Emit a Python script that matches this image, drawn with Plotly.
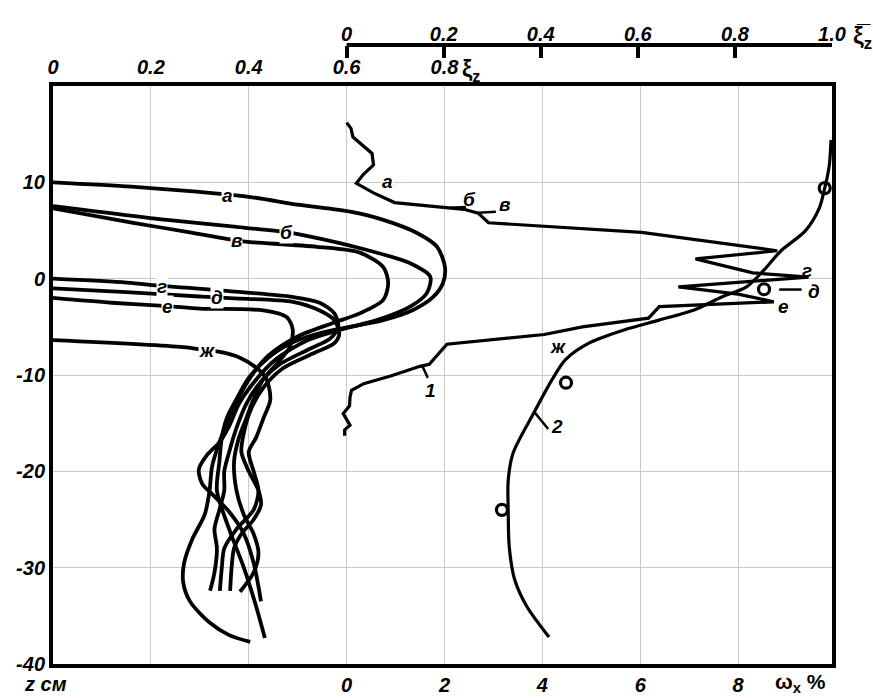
import plotly.graph_objects as go

# ---------------- data ----------------
# Left family of profiles xi_z(z) (curves а..ж), z in cm
xi_a = [0.0, 0.16, 0.30, 0.40, 0.505, 0.607, 0.675, 0.744, 0.785, 0.801, 0.797, 0.777, 0.736, 0.675, 0.607, 0.55,
        0.49, 0.44, 0.40, 0.375, 0.355, 0.345, 0.34, 0.335, 0.36, 0.39, 0.415, 0.433]
z_a = [10.0, 9.55, 9.0, 8.5, 7.65, 6.95, 6.1, 4.74, 3.3, 1.2, -0.45, -1.9, -3.25, -4.3, -5.0, -5.6,
       -6.6, -8.2, -10.3, -12.5, -14.5, -16.5, -19.0, -22.0, -26.0, -30.0, -34.0, -37.3]

xi_b = [0.0, 0.233, 0.36, 0.48, 0.511, 0.642, 0.73, 0.771, 0.764, 0.73, 0.662, 0.587, 0.52, 0.455, 0.41, 0.38,
        0.36, 0.34, 0.315, 0.298, 0.305, 0.33, 0.36, 0.39, 0.41, 0.42, 0.425]
z_b = [7.54, 6.1, 5.45, 4.8, 4.53, 2.98, 1.6, 0.2, -1.5, -2.9, -4.3, -5.3, -6.4, -8.4, -10.8, -13.0,
       -15.3, -17.0, -18.3, -19.8, -21.3, -22.6, -24.2, -26.5, -29.5, -32.0, -33.5]

xi_v = [0.0, 0.164, 0.28, 0.376, 0.403, 0.54, 0.627, 0.675, 0.685, 0.675, 0.627, 0.572, 0.50, 0.44, 0.40, 0.375,
        0.355, 0.34, 0.325, 0.32, 0.31, 0.285, 0.268, 0.266, 0.28, 0.32, 0.36, 0.403]
z_v = [7.3, 5.8, 4.8, 3.95, 3.8, 3.3, 2.7, 1.2, -0.45, -2.2, -3.6, -4.6, -6.0, -8.0, -10.5, -12.8,
       -15.0, -17.0, -19.5, -22.0, -24.5, -27.0, -29.5, -31.5, -33.5, -35.7, -37.0, -37.7]

xi_g = [0.0, 0.15, 0.222, 0.29, 0.36, 0.49, 0.545, 0.575, 0.583, 0.567, 0.52, 0.46, 0.42, 0.395, 0.375, 0.36,
        0.35, 0.35, 0.34, 0.33, 0.335, 0.33, 0.321]
z_g = [0.0, -0.4, -0.75, -1.0, -1.3, -1.9, -2.5, -3.6, -5.0, -6.2, -7.4, -9.0, -11.0, -13.0, -15.5, -18.0,
       -20.0, -22.0, -24.0, -26.0, -28.0, -30.5, -32.4]

xi_d = [0.0, 0.15, 0.30, 0.335, 0.37, 0.49, 0.545, 0.575, 0.585, 0.575, 0.53, 0.47, 0.43, 0.405, 0.39, 0.385,
        0.40, 0.42, 0.425, 0.41, 0.385, 0.37, 0.365, 0.362]
z_d = [-1.0, -1.4, -1.85, -1.95, -2.05, -2.4, -3.3, -4.3, -5.7, -6.7, -7.8, -9.3, -11.3, -13.5, -16.0, -18.0,
       -20.0, -22.0, -23.5, -25.0, -26.5, -28.0, -30.0, -32.4]

xi_e = [0.0, 0.12, 0.235, 0.30, 0.43, 0.478, 0.49, 0.484, 0.458, 0.429, 0.41, 0.395, 0.38, 0.37, 0.375, 0.39,
        0.41, 0.42, 0.41, 0.39, 0.382]
z_e = [-2.0, -2.5, -2.85, -3.1, -3.3, -4.0, -5.3, -7.1, -8.8, -10.5, -12.5, -14.5, -16.5, -19.0, -22.0, -24.5,
       -26.5, -28.5, -30.5, -32.0, -32.5]

xi_zh = [0.0, 0.266, 0.315, 0.341, 0.382, 0.417, 0.437, 0.444, 0.43, 0.415, 0.40, 0.41, 0.42, 0.41, 0.375, 0.35,
         0.345, 0.341]
z_zh = [-6.37, -7.1, -7.45, -7.6, -8.2, -9.3, -10.5, -12.6, -14.5, -16.5, -18.0, -20.0, -22.0, -24.0, -26.0, -28.0,
        -30.0, -32.4]

left_names = ["а", "б", "в", "г", "д", "е", "ж"]
left_label_xi = [0.356, 0.478, 0.376, 0.222, 0.335, 0.235, 0.315]
left_label_z = [8.6, 4.75, 3.95, -0.8, -2.0, -2.9, -7.5]

# Curve 1: omega_x, %
omega_1 = [0.0, 0.09, 0.13, 0.34, 0.52, 0.55, 0.34, 0.2, 0.55, 0.98, 1.9, 2.4, 2.69, 2.9, 6.03, 8.8, 7.13,
           8.3, 9.44, 6.78, 8.0, 8.73, 6.39, 6.17, 4.82, 4.04, 2.05, 1.69, 1.5, 0.9, 0.35, 0.1, 0.07, 0.06,
           -0.07, 0.02, 0.07, -0.04, -0.04]
z_1 = [16.2, 15.6, 14.7, 13.8, 13.0, 11.8, 10.8, 9.9, 8.9, 7.9, 7.4, 7.2, 6.8, 5.8, 4.8, 2.9, 2.05,
       0.6, 0.17, -0.85, -1.6, -2.4, -2.9, -4.1, -5.0, -5.8, -6.8, -8.9, -9.1, -10.1, -10.9, -11.6, -12.3, -13.2,
       -14.0, -14.7, -15.2, -15.7, -16.3]

# Curve 2: mean xi (xi-bar)
xibar_2 = [0.998, 0.995, 0.99, 0.985, 0.974, 0.945, 0.895, 0.859, 0.824, 0.773, 0.716, 0.644, 0.573, 0.5,
           0.451, 0.423, 0.385, 0.343, 0.333, 0.333, 0.335, 0.346, 0.371, 0.417]
z_2 = [14.4, 12.0, 10.5, 9.4, 7.35, 4.96, 2.9, 0.85, -0.85, -1.9, -3.25, -4.3, -5.3, -6.67,
       -8.4, -10.5, -14.0, -18.1, -20.9, -24.3, -27.8, -31.2, -34.0, -37.2]

xibar_pts = [0.985, 0.86, 0.452, 0.32]
z_pts = [9.4, -1.1, -10.8, -24.0]

# labels attached to curve 1 / curve 2 (in omega units)
right_names = ["а", "б", "в", "г", "д", "е", "ж", "1", "2"]
right_label_w = [0.84, 2.51, 3.22, 9.41, 9.56, 8.92, 4.32, 1.72, 4.3]
right_label_z = [10.1, 8.2, 7.7, 0.85, -1.37, -2.84, -7.0, -11.6, -15.3]

leader_w0 = [2.12, 2.69, 8.84, 1.55, 3.83]
leader_z0 = [7.35, 6.85, -1.13, -9.1, -13.8]
leader_w1 = [2.44, 3.05, 9.3, 1.66, 4.12]
leader_z1 = [7.45, 6.95, -1.13, -10.3, -15.6]

omega_grid = [-4, -2, 0, 2, 4, 6, 8]
xi_ticks = [0, 0.2, 0.4, 0.6, 0.8]
xibar_ticks = [0, 0.2, 0.4, 0.6, 0.8, 1.0]
z_ticks = [-40, -30, -20, -10, 0, 10]

# ---------------- figure ----------------
W_MIN, W_MAX = -6.0, 9.92
XI_MAX = (W_MAX - W_MIN) / 10.0
TICKFONT = dict(family="Liberation Sans Narrow, Liberation Sans, Arial", size=20, color="black",
                weight="bold", style="italic")
LBLFONT = dict(family="Liberation Sans, Arial", size=19, color="black", weight="bold", style="italic")

fig = go.Figure()

left_curves = [(xi_a, z_a), (xi_b, z_b), (xi_v, z_v), (xi_g, z_g), (xi_d, z_d), (xi_e, z_e), (xi_zh, z_zh)]
for name, (xs, zs) in zip(left_names, left_curves):
    fig.add_trace(go.Scatter(x=xs, y=zs, xaxis="x2", yaxis="y", mode="lines", name=name,
                             line=dict(color="black", width=3.8, shape="spline", smoothing=0.8),
                             showlegend=False, hoverinfo="skip"))

fig.add_trace(go.Scatter(x=omega_1, y=z_1, xaxis="x", yaxis="y", mode="lines",
                         line=dict(color="black", width=3.2), showlegend=False, hoverinfo="skip"))

fig.add_trace(go.Scatter(x=xibar_2, y=z_2, xaxis="x3", yaxis="y", mode="lines",
                         line=dict(color="black", width=3.2, shape="spline", smoothing=0.8),
                         showlegend=False, hoverinfo="skip"))
fig.add_trace(go.Scatter(x=xibar_pts, y=z_pts, xaxis="x3", yaxis="y", mode="markers",
                         marker=dict(symbol="circle-open", size=11, color="black", line=dict(width=3.2)),
                         showlegend=False, hoverinfo="skip"))

for w0, z0, w1, z1 in zip(leader_w0, leader_z0, leader_w1, leader_z1):
    fig.add_shape(type="line", xref="x", yref="y", x0=w0, y0=z0, x1=w1, y1=z1,
                  line=dict(color="black", width=2.5))

# axis line of the upper (xi-bar) scale, spanning 0 .. 1.0 only
fig.add_shape(type="line", xref="x3", yref="paper", x0=xibar_ticks[0], x1=xibar_ticks[-1], y0=1.0, y1=1.0,
              line=dict(color="black", width=4))

for name, xv, zv in zip(left_names, left_label_xi, left_label_z):
    fig.add_annotation(x=xv, y=zv, xref="x2", yref="y", text=name, showarrow=False,
                       font=LBLFONT, bgcolor="white", borderpad=0)

for name, wv, zv in zip(right_names, right_label_w, right_label_z):
    fig.add_annotation(x=wv, y=zv, xref="x", yref="y", text=name, showarrow=False,
                       font=LBLFONT, bgcolor="white" if name == "а" else "rgba(0,0,0,0)", borderpad=0)

# axis titles as annotations
fig.add_annotation(x=-0.009, y=-0.033, xref="paper", yref="paper", text="z см", showarrow=False,
                   xanchor="center", yanchor="middle", font=TICKFONT)
fig.add_annotation(x=0.96, y=-0.03, xref="paper", yref="paper", text="ω<sub>x</sub> %", showarrow=False,
                   xanchor="center", yanchor="middle",
                   font=dict(family="Liberation Sans, Arial", size=21, color="black", weight="bold"))
fig.add_annotation(x=0.537, y=0.958, xref="paper", yref="paper", text="ξ<sub>z</sub>", showarrow=False,
                   xanchor="center", yanchor="middle",
                   font=dict(family="Liberation Sans, Arial", size=23, color="black", weight="bold"))
fig.add_annotation(x=1.039, y=1.012, xref="paper", yref="paper", text="ξ\u0305<sub>z</sub>", showarrow=False,
                   xanchor="center", yanchor="middle",
                   font=dict(family="Liberation Sans, Arial", size=24, color="black", weight="bold"))

ydom_top = 578.0 / 619.0
fig.update_layout(
    width=873, height=698, autosize=False,
    margin=dict(l=53, r=41, t=45, b=34, autoexpand=False),
    paper_bgcolor="white", plot_bgcolor="white",
    xaxis=dict(domain=[0, 1], range=[W_MIN, W_MAX], anchor="y", side="bottom", automargin=False,
               tickvals=omega_grid, ticktext=["" if v < 0 else str(v) for v in omega_grid],
               showgrid=True, gridcolor="#c9c9c9", gridwidth=1, zeroline=False,
               showline=True, linewidth=4, linecolor="black", ticks="", tickfont=TICKFONT),
    xaxis2=dict(overlaying="x", anchor="y", side="top", range=[0, XI_MAX], automargin=False,
                tickvals=xi_ticks, ticktext=["0", "0.2", "0.4", "0.6", "0.8"],
                showgrid=False, zeroline=False, showline=True, linewidth=4, linecolor="black",
                ticks="", tickfont=TICKFONT),
    xaxis3=dict(overlaying="x", anchor="free", position=1.0, side="top", automargin=False,
                range=[W_MIN / W_MAX, 1.0], tickvals=xibar_ticks,
                ticktext=["0", "0.2", "0.4", "0.6", "0.8", "1.0"],
                showgrid=False, zeroline=False, showline=False,
                ticks="inside", ticklen=12, tickwidth=4, tickcolor="black", tickfont=TICKFONT),
    yaxis=dict(domain=[0, ydom_top], range=[-40, 20], anchor="x", automargin=False,
               tickvals=z_ticks, ticktext=[str(v) for v in z_ticks],
               showgrid=True, gridcolor="#c9c9c9", gridwidth=1, zeroline=False,
               showline=True, linewidth=4, linecolor="black", mirror=True, ticks="", tickfont=TICKFONT),
)

fig.write_html("out.html", config={"displayModeBar": False, "responsive": False},
               post_script="document.body.style.margin='0px';")
